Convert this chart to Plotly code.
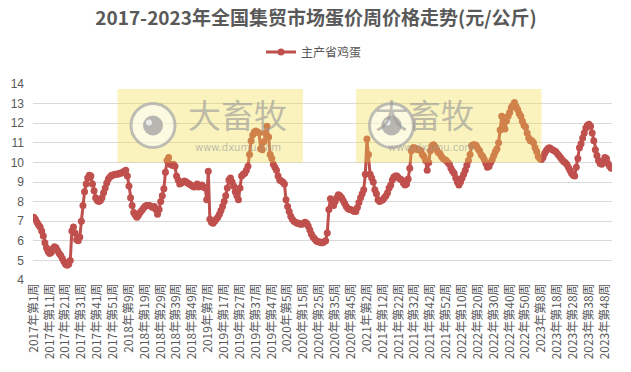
import plotly.graph_objects as go

# ---------------- data ----------------
years = [2017, 2018, 2019, 2020, 2021, 2022, 2023]
weeks_per_year = [52, 52, 52, 53, 52, 52, 52]

categories = [f"{y}年第{w}周" for y, n in zip(years, weeks_per_year) for w in range(1, n + 1)]

price_2017 = [7.2, 7.1, 6.95, 6.8, 6.7, 6.5, 6.25, 5.9, 5.65, 5.45,
              5.35, 5.4, 5.6, 5.7, 5.65, 5.5, 5.35, 5.25, 5.1, 4.95,
              4.8, 4.75, 4.8, 5.0, 6.5, 6.7, 6.4, 6.05, 6.0, 6.2,
              7.0, 7.8, 8.5, 8.9, 9.2, 9.35, 9.3, 8.9, 8.55, 8.2,
              8.05, 8.0, 8.05, 8.2, 8.45, 8.7, 8.95, 9.15, 9.25, 9.35,
              9.35, 9.4]
price_2018 = [9.4, 9.4, 9.45, 9.45, 9.5, 9.55, 9.6, 9.3, 8.8, 8.2,
              7.8, 7.45, 7.3, 7.2, 7.3, 7.45, 7.55, 7.65, 7.75, 7.8,
              7.8, 7.8, 7.75, 7.7, 7.75, 7.6, 7.35, 7.6, 8.0, 8.3,
              8.65, 9.5, 10.1, 10.25, 9.9, 9.85, 9.9, 9.8, 9.3, 9.1,
              8.9, 8.95, 9.0, 9.05, 9.0, 8.95, 8.9, 8.85, 8.8, 8.75,
              8.8, 8.9]
price_2019 = [8.75, 8.8, 8.85, 8.75, 8.7, 8.1, 9.55, 7.1, 6.95, 6.9,
              7.0, 7.1, 7.2, 7.35, 7.55, 7.75, 8.0, 8.3, 8.7, 9.1,
              9.2, 9.0, 8.8, 8.5, 8.3, 8.1, 8.7, 9.3, 9.4, 9.45,
              9.6, 9.8, 10.4, 11.1, 11.4, 11.55, 11.6, 11.55, 11.5, 10.7,
              10.65, 11.05, 11.5, 11.85, 11.3, 10.4, 10.2, 9.9, 9.75, 9.6,
              9.3, 9.1]
price_2020 = [9.05, 9.0, 8.9, 8.1, 7.75, 7.5, 7.25, 7.1, 7.0, 6.95,
              6.9, 6.9, 6.85, 6.85, 6.9, 6.95, 6.9, 6.75, 6.55, 6.35,
              6.2, 6.1, 6.0, 5.95, 5.95, 5.9, 5.9, 5.95, 6.0, 6.4,
              7.6, 8.15, 7.85, 7.8, 8.0, 8.2, 8.35, 8.3, 8.2, 8.05,
              7.9, 7.75, 7.65, 7.6, 7.6, 7.55, 7.5, 7.5, 7.7, 7.95,
              8.2, 8.4, 8.6]
price_2021 = [9.4, 11.2, 10.4, 9.4, 9.2, 9.0, 8.6, 8.4, 8.1, 8.0,
              8.05, 8.1, 8.2, 8.3, 8.45, 8.7, 8.85, 9.1, 9.25, 9.3,
              9.3, 9.2, 9.15, 9.1, 8.95, 8.85, 8.9, 9.15, 9.7, 10.6,
              10.75, 10.75, 10.7, 10.65, 10.65, 10.6, 10.4, 10.3, 10.1, 9.6,
              10.0, 10.6, 10.85, 10.9, 10.8, 10.65, 10.5, 10.45, 10.3, 10.2,
              10.15, 10.1]
price_2022 = [10.0, 9.9, 9.7, 9.55, 9.45, 9.2, 9.0, 8.85, 9.0, 9.2,
              9.4, 9.6, 9.85, 10.1, 10.4, 10.85, 10.9, 10.9, 10.85, 10.7,
              10.6, 10.4, 10.3, 10.15, 9.95, 9.75, 9.8, 10.0, 10.15, 10.35,
              10.55, 10.7, 11.0, 11.65, 12.35, 11.9, 11.7, 12.1, 12.35, 12.55,
              12.8, 12.9, 13.05, 12.85, 12.7, 12.5, 12.35, 12.1, 11.9, 11.8,
              11.5, 11.25]
price_2023 = [11.1, 11.1, 11.0, 10.75, 10.55, 10.3, 10.2, 10.15, 10.25, 10.45,
              10.6, 10.7, 10.75, 10.7, 10.65, 10.6, 10.55, 10.45, 10.35, 10.25,
              10.15, 10.05, 10.0, 9.9, 9.75, 9.6, 9.45, 9.35, 9.3, 9.75,
              10.2, 10.75, 10.95, 11.25, 11.5, 11.75, 11.9, 11.95, 11.85, 11.5,
              11.1, 10.65, 10.35, 10.1, 9.95, 9.9, 10.05, 10.25, 10.2, 9.95,
              9.8, 9.7]

prices = price_2017 + price_2018 + price_2019 + price_2020 + price_2021 + price_2022 + price_2023
tick_labels = categories[::10]
y_ticks = list(range(4, 15))

series_name = "主产省鸡蛋"
title_text = "2017-2023年全国集贸市场蛋价周价格走势(元/公斤)"

# ---------------- figure ----------------
W, H = 631, 372
L, R, T, B = 33, 612, 84, 280   # plot area in pixels

def px(x):
    return (x - L) / (R - L)

def py(y):
    return (B - y) / (B - T)

FONT = "Noto Sans CJK SC"
GRAY = "#595959"
RED = "#C0504D"

fig = go.Figure()
fig.add_trace(go.Scatter(
    x=categories, y=prices, name=series_name, mode="lines+markers",
    line=dict(color=RED, width=3),
    marker=dict(color=RED, size=7, symbol="circle"),
))

shapes = []
annotations = []
for x0 in (117.5, 356.0):
    # yellow watermark box (above the line)
    shapes.append(dict(type="rect", xref="paper", yref="paper", layer="above",
                       x0=px(x0), x1=px(x0 + 185.5), y0=py(162.5), y1=py(89),
                       fillcolor="rgba(240,222,70,0.35)", line=dict(width=0)))
    # logo ring
    cx, cy, r = x0 + 35.5, 125.5, 22
    shapes.append(dict(type="circle", xref="paper", yref="paper", layer="above",
                       x0=px(cx - r), x1=px(cx + r), y0=py(cy + r), y1=py(cy - r),
                       fillcolor="rgba(255,255,255,0.55)",
                       line=dict(color="rgba(170,170,170,0.75)", width=3)))
    r2 = 10
    shapes.append(dict(type="circle", xref="paper", yref="paper", layer="above",
                       x0=px(cx - r2), x1=px(cx + r2), y0=py(cy + r2), y1=py(cy - r2),
                       fillcolor="rgba(165,165,165,0.8)", line=dict(width=0)))
    r3 = 3
    shapes.append(dict(type="circle", xref="paper", yref="paper", layer="above",
                       x0=px(cx - 4 - r3), x1=px(cx - 4 + r3), y0=py(cy - 3 + r3), y1=py(cy - 3 - r3),
                       fillcolor="rgba(240,240,240,0.9)", line=dict(width=0)))
    annotations.append(dict(text="大畜牧", xref="paper", yref="paper",
                            x=px(x0 + 120), y=py(140), yanchor="bottom", showarrow=False,
                            font=dict(family=FONT, size=33, color="rgba(150,150,150,0.6)")))
    annotations.append(dict(text="www.dxumu.com", xref="paper", yref="paper",
                            x=px(x0 + 120), y=py(140), yanchor="top", showarrow=False,
                            font=dict(family="DejaVu Sans", size=10, color="rgba(150,150,150,0.6)")))

fig.update_layout(
    template="none",
    width=W, height=H, autosize=False,
    margin=dict(l=L, r=W - R, t=T, b=H - B, pad=0, autoexpand=False),
    paper_bgcolor="white", plot_bgcolor="white",
    title=dict(text=f"<b>{title_text}</b>", x=316 / W, xref="container", xanchor="center",
               y=1 - 18 / H, yref="container", yanchor="middle",
               font=dict(family=FONT, size=19, color=GRAY)),
    showlegend=True,
    legend=dict(orientation="h", x=px(314), xanchor="center", y=1 - 52 / H, yref="container", yanchor="middle",
                font=dict(family=FONT, size=12, color=GRAY), bgcolor="rgba(0,0,0,0)"),
    xaxis=dict(type="category", range=[-0.5, len(categories) - 0.5], autorange=False,
               tickmode="array", tickvals=tick_labels, ticktext=tick_labels,
               tickangle=-90, showgrid=False, showline=False, zeroline=False, ticks="",
               automargin=False,
               tickfont=dict(family=FONT, size=12, color=GRAY)),
    yaxis=dict(range=[4, 14], autorange=False, tickmode="array", tickvals=y_ticks, showgrid=True,
               gridcolor="#D9D9D9", gridwidth=1, zeroline=False, showline=False, ticks="",
               ticklabelstandoff=8, automargin=False,
               tickfont=dict(family="Liberation Sans", size=12, color=GRAY)),
    shapes=shapes, annotations=annotations,
    font=dict(family=FONT),
)

fig.write_html("out.html", config={"displayModeBar": False},
               post_script="document.body.style.margin='0';document.body.style.padding='0';")
